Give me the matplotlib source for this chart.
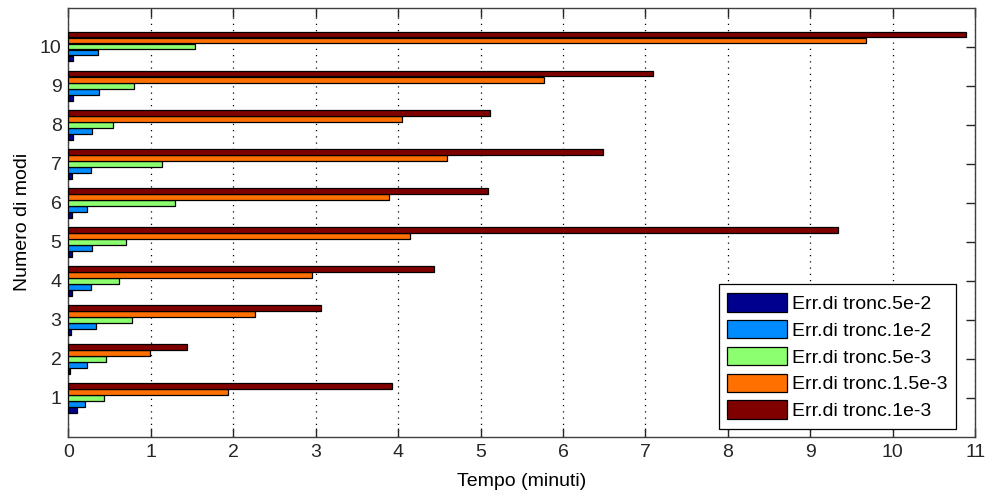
import matplotlib.pyplot as plt
import numpy as np

plt.rcParams['font.family'] = ['Liberation Sans', 'DejaVu Sans']

# Numero di modi
modi = [1, 2, 3, 4, 5, 6, 7, 8, 9, 10]

# Tempi (minuti) per ogni errore di troncamento
t_5e2 = [0.10, 0.02, 0.03, 0.04, 0.04, 0.04, 0.04, 0.06, 0.06, 0.06]
t_1e2 = [0.20, 0.22, 0.34, 0.27, 0.29, 0.22, 0.27, 0.29, 0.37, 0.36]
t_5e3 = [0.43, 0.45, 0.77, 0.61, 0.70, 1.29, 1.13, 0.54, 0.79, 1.53]
t_15e3 = [1.94, 0.99, 2.26, 2.96, 4.14, 3.89, 4.59, 4.05, 5.77, 9.67]
t_1e3 = [3.93, 1.44, 3.06, 4.43, 9.34, 5.09, 6.49, 5.12, 7.09, 10.89]

serie = [t_5e2, t_1e2, t_5e3, t_15e3, t_1e3]
etichette = ['Err.di tronc.5e-2', 'Err.di tronc.1e-2', 'Err.di tronc.5e-3',
             'Err.di tronc.1.5e-3', 'Err.di tronc.1e-3']
colori = ['#00008F', '#008CFF', '#8CFF70', '#FF7000', '#800000']

fig = plt.figure(figsize=(9.85, 4.91), dpi=100)
ax = fig.add_axes([0.0695, 0.110, 0.9205, 0.8747])

# barre raggruppate, stile barh
n = len(serie)
passo = 0.77 / n
y = np.array(modi, dtype=float)
for k in range(n):
    off = (k - (n - 1) / 2) * passo
    ax.barh(y + off, serie[k], height=passo * 0.97, color=colori[k],
            edgecolor='black', linewidth=0.9, label=etichette[k], zorder=3)

ax.set_xlim(0, 11)
ax.set_ylim(0, 11)
ax.set_xticks(range(0, 12))
ax.set_yticks(modi)

# griglia verticale punteggiata
ax.grid(True, axis='x', linestyle=(0, (1, 4)), color='black', linewidth=0.9, zorder=1)

ax.tick_params(direction='in', length=6.5, width=1, top=True, right=True,
               labelsize=14, colors='#262626', pad=5)
for s in ax.spines.values():
    s.set_color('#404040')
    s.set_linewidth(1)

ax.set_xlabel('Tempo (minuti)', fontsize=14, labelpad=9)
ax.set_ylabel('Numero di modi', fontsize=14, labelpad=6)

leg = ax.legend(loc='lower right', bbox_to_anchor=(0.979, 0.0186), fontsize=14,
                frameon=True, fancybox=False, edgecolor='black', framealpha=1,
                borderpad=0.45, handlelength=3.05, handleheight=1.08,
                handletextpad=0.26, labelspacing=0.36, borderaxespad=0)
leg.get_frame().set_linewidth(0.9)

plt.savefig('out.png', dpi=100)
